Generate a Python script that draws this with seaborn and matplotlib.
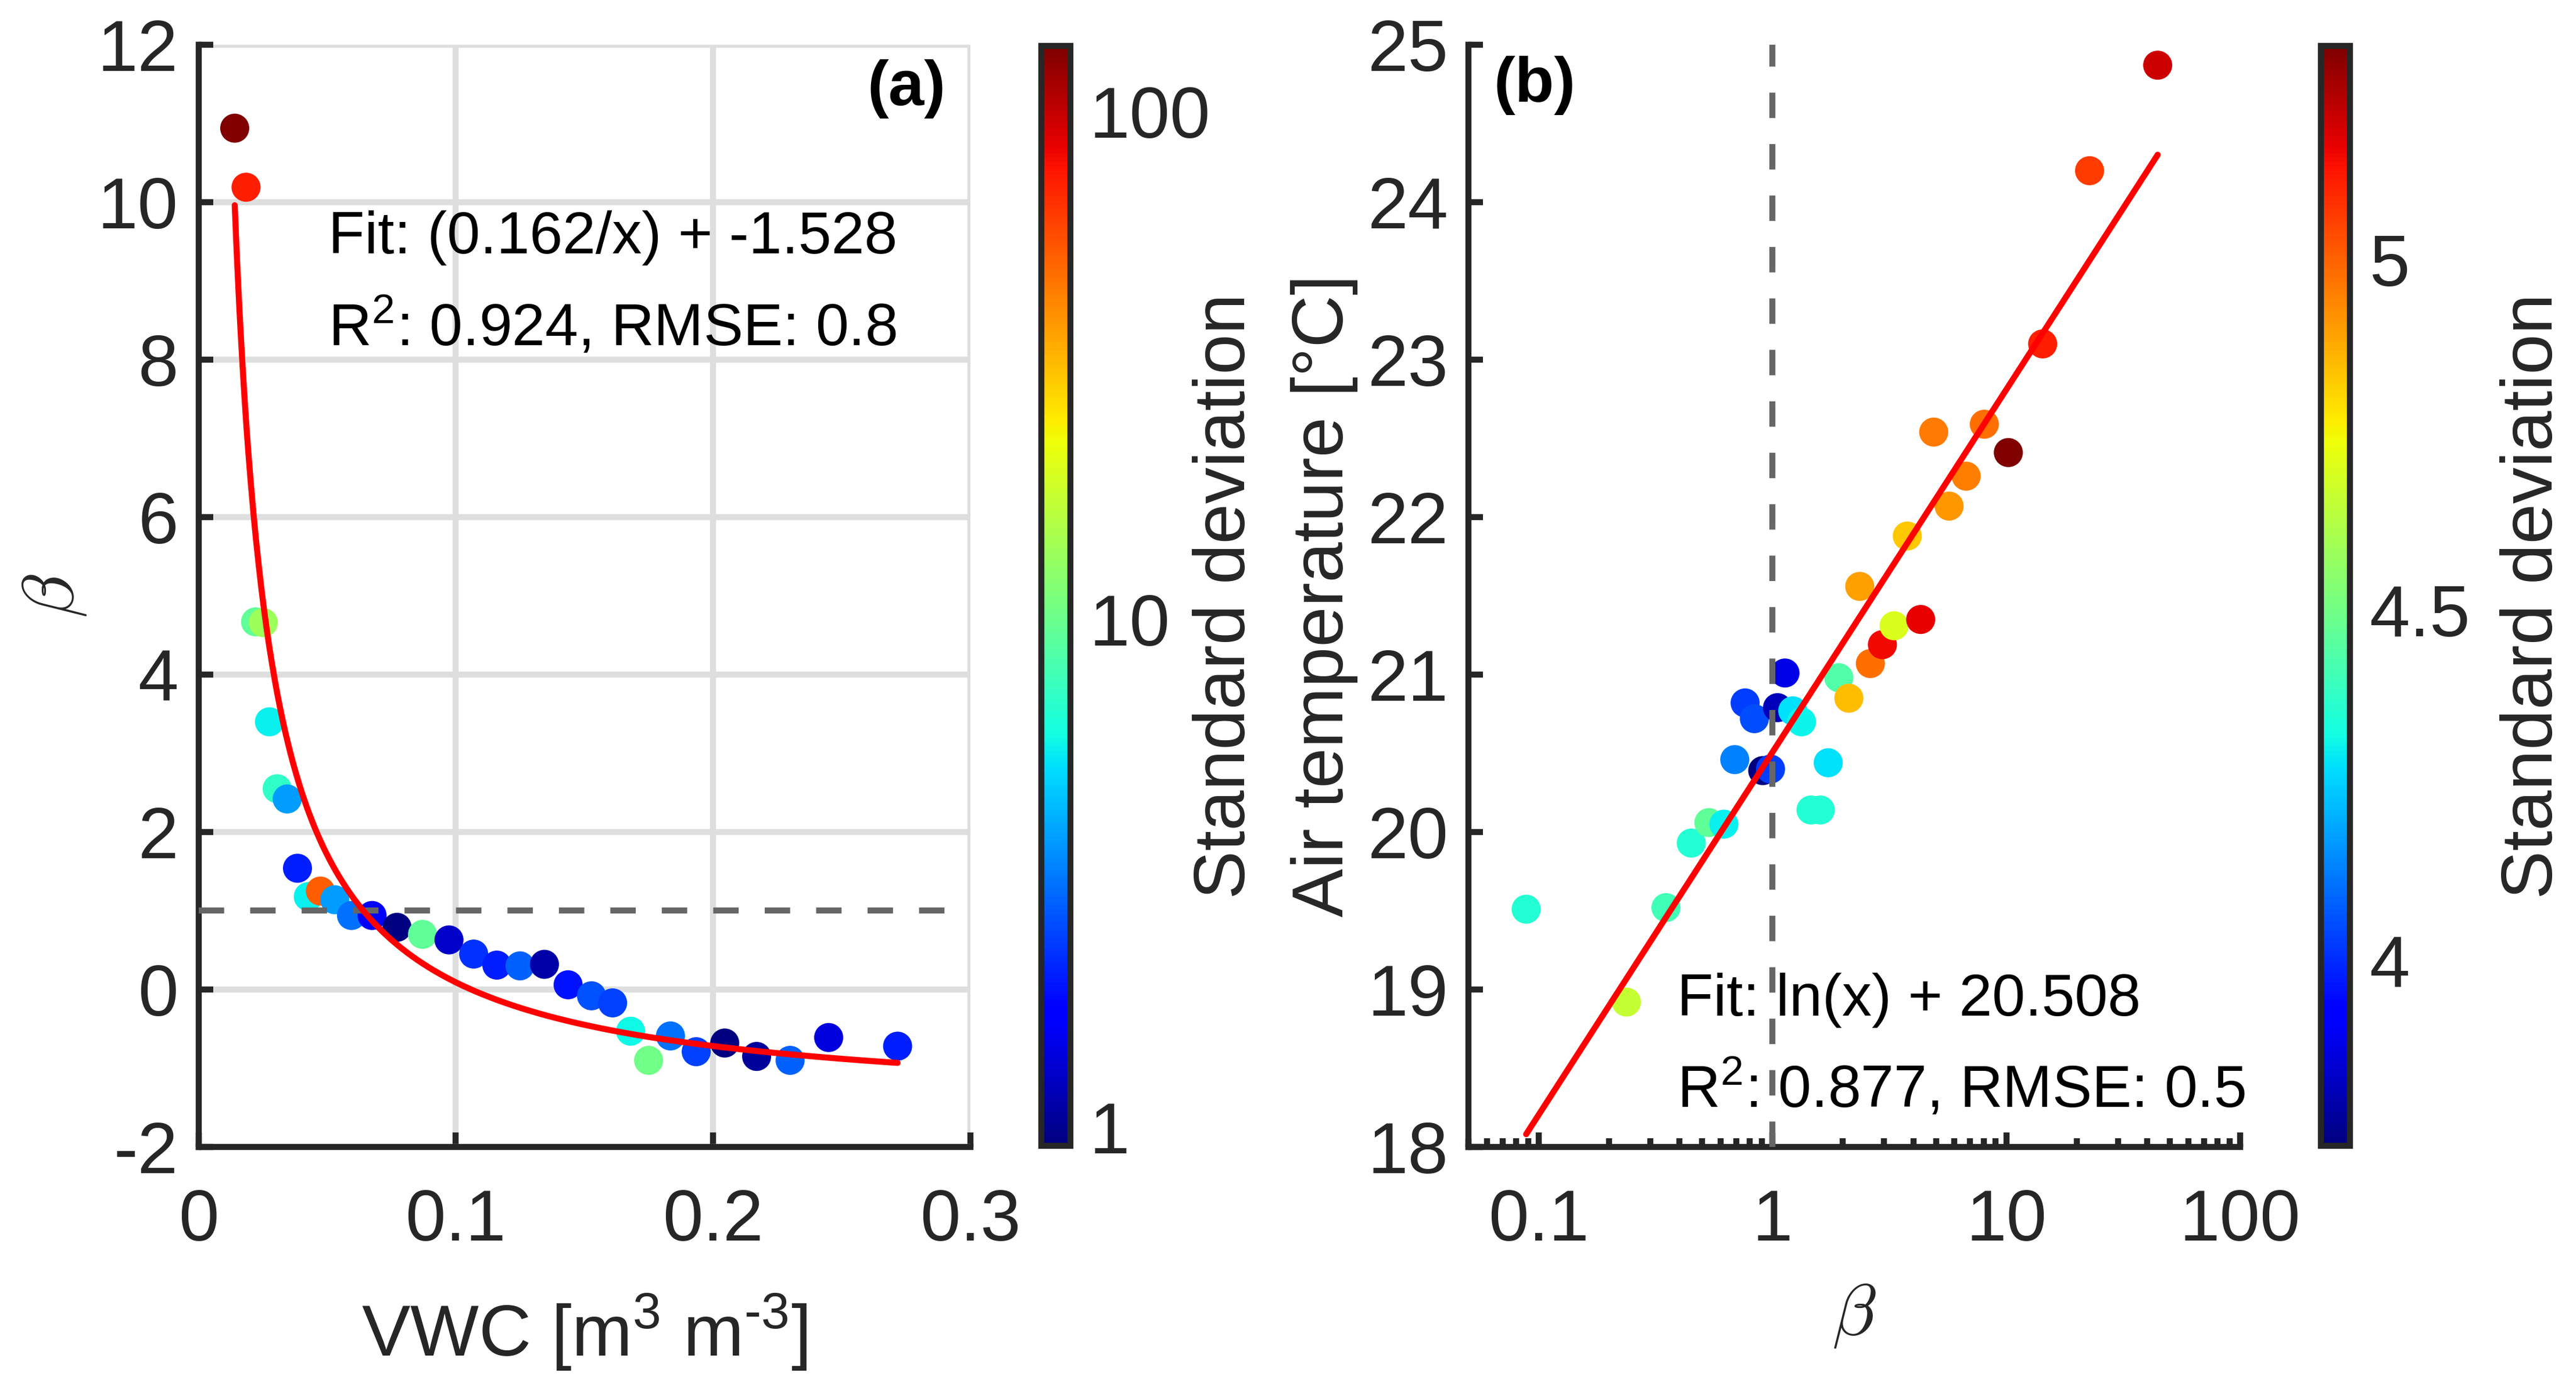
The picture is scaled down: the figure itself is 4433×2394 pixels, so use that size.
import numpy as np
import pandas as pd
import matplotlib
matplotlib.use("Agg")
import matplotlib as mpl
import matplotlib.pyplot as plt
from matplotlib.colors import LogNorm, Normalize
from matplotlib.ticker import FixedLocator, LogLocator, NullFormatter, FixedFormatter
import seaborn as sns

# ---------------- data: panel (a) ----------------
vwc_a = [0.0141, 0.0185, 0.0222, 0.0252, 0.0276, 0.0306, 0.0345, 0.0385,
         0.0427, 0.0474, 0.0530, 0.0595, 0.0675, 0.0772, 0.0871, 0.0974,
         0.1070, 0.1160, 0.1250, 0.1345, 0.1437, 0.1528, 0.1610, 0.1680,
         0.1750, 0.1835, 0.1935, 0.2046, 0.2170, 0.2300, 0.2450, 0.2718]
beta_a = [10.94, 10.19, 4.67, 4.66, 3.40, 2.55, 2.42, 1.54,
          1.18, 1.25, 1.14, 0.94, 0.94, 0.79, 0.70, 0.63,
          0.45, 0.31, 0.30, 0.32, 0.06, -0.08, -0.17, -0.53,
          -0.90, -0.59, -0.79, -0.68, -0.85, -0.90, -0.61, -0.72]
std_a = [134.6, 72.6, 9.35, 13.7, 5.55, 7.1, 3.71, 2.0,
         5.55, 52.0, 3.7, 2.97, 1.63, 0.92, 9.4, 1.26,
         2.17, 2.0, 2.74, 1.10, 1.86, 2.54, 2.35, 5.8,
         10.4, 2.97, 2.35, 0.93, 1.05, 2.74, 1.39, 2.0]
fit_a_coef = 0.162
fit_a_const = -1.528
fit_a_r2 = 0.924
fit_a_rmse = 0.8

# ---------------- data: panel (b) ----------------
beta_b = [0.0883, 0.237, 0.350, 0.449, 0.534, 0.619, 0.689, 0.763,
          0.836, 0.908, 0.980, 1.05, 1.13, 1.22, 1.33, 1.46,
          1.60, 1.73, 1.92, 2.12, 2.36, 2.62, 2.95, 3.31,
          3.77, 4.30, 4.89, 5.69, 6.73, 8.05, 10.2, 14.3,
          22.7, 44.4]
temp_b = [19.51, 18.92, 19.52, 19.93, 20.06, 20.05, 20.46, 20.82,
          20.72, 20.39, 20.40, 20.79, 21.01, 20.77, 20.70, 20.14,
          20.14, 20.44, 20.98, 20.85, 21.56, 21.07, 21.19, 21.31,
          21.88, 21.35, 22.54, 22.07, 22.26, 22.59, 22.41, 23.10,
          24.20, 24.87]
std_b = [4.35, 4.66, 4.41, 4.35, 4.47, 4.30, 4.13, 4.03,
         4.05, 3.736, 4.03, 3.82, 3.88, 4.28, 4.31, 4.35,
         4.35, 4.28, 4.44, 4.85, 4.90, 4.98, 5.15, 4.70,
         4.83, 5.16, 4.96, 4.91, 4.95, 4.98, 5.305, 5.11,
         5.06, 5.20]
fit_b_const = 20.508
fit_b_r2 = 0.877
fit_b_rmse = 0.5

a_xticks = [0, 0.1, 0.2, 0.3]
a_xticklabels = ["0", "0.1", "0.2", "0.3"]
a_yticks = [-2, 0, 2, 4, 6, 8, 10, 12]
b_xticks = [0.1, 1, 10, 100]
b_xticklabels = ["0.1", "1", "10", "100"]
b_yticks = [18, 19, 20, 21, 22, 23, 24, 25]
cb_a_ticks = [1, 10, 100]
cb_a_labels = ["1", "10", "100"]
cb_b_ticks = [4, 4.5, 5]
cb_b_labels = ["4", "4.5", "5"]

# ---------------- style ----------------
sns.set_theme(style="white")
plt.rcParams.update({
    "axes.unicode_minus": False,
    "mathtext.fontset": "custom",
    "mathtext.rm": "Liberation Sans",
    "mathtext.it": "Liberation Sans:italic",
    "mathtext.bf": "Liberation Sans:bold",
    "axes.facecolor": "white",
    "figure.facecolor": "white",
    "xtick.bottom": True,
    "ytick.left": True,
})
plt.rcParams["font.family"] = ["Liberation Sans", "DejaVu Sans"]

DARK = "#262626"
LW = 2.5
FS = 30
cmap = mpl.colormaps["jet"]

fig = plt.figure(figsize=(4433 / 300, 2394 / 300), dpi=300)
ax_a = fig.add_axes([0.07704, 0.17544, 0.29957, 0.79240])
cax_a = fig.add_axes([0.40413, 0.17627, 0.01128, 0.79073])
ax_b = fig.add_axes([0.57004, 0.17544, 0.29957, 0.79240])
cax_b = fig.add_axes([0.90108, 0.17627, 0.01128, 0.79073])


def style_axes(ax):
    for s in ["top", "right"]:
        ax.spines[s].set_visible(False)
    for s in ["left", "bottom"]:
        ax.spines[s].set_linewidth(LW)
        ax.spines[s].set_color(DARK)
    ax.tick_params(which="both", direction="in", width=LW, color=DARK,
                   labelcolor=DARK, labelsize=FS, top=False, right=False,
                   bottom=True, left=True)
    ax.tick_params(which="major", length=6)
    ax.tick_params(which="minor", length=3.6)
    ax.tick_params(axis="x", which="both", pad=17)
    ax.tick_params(axis="y", which="both", pad=8.3)


# ---------------- panel (a) ----------------
df_a = pd.DataFrame({"vwc": vwc_a, "beta": beta_a, "std": std_a}).sort_values("vwc")
norm_a = LogNorm(vmin=min(std_a), vmax=max(std_a))
sns.scatterplot(data=df_a, x="vwc", y="beta", hue="std", palette=cmap,
                hue_norm=norm_a, s=144, linewidth=0, legend=False, ax=ax_a,
                zorder=2)
ax_a.axhline(1, color="#666666", lw=LW, dashes=(4.2, 4.3), zorder=3)
xs_a = np.linspace(df_a["vwc"].min(), df_a["vwc"].max(), 500)
ax_a.plot(xs_a, fit_a_coef / xs_a + fit_a_const, color="red", lw=LW, zorder=4)

ax_a.set_xlim(0, 0.3)
ax_a.set_ylim(-2, 12)
ax_a.set_xticks(a_xticks, a_xticklabels)
ax_a.set_yticks(a_yticks, [str(v) for v in a_yticks])
ax_a.grid(True, color="#dedede", lw=LW)
ax_a.set_axisbelow(True)
style_axes(ax_a)

ax_a.set_xlabel(r"VWC [m$^3$ m$^{\text{-}3}$]", fontsize=FS, color=DARK)
ax_a.xaxis.set_label_coords(0.5, -0.1898)
ax_a.xaxis.label.set_va("baseline")
ax_a.set_ylabel(r"$\beta$", fontsize=FS, color=DARK, math_fontfamily="cm")
ax_a.yaxis.set_label_coords(-0.1427, 0.5)

ax_a.text(0.0504, 9.354, f"Fit: ({fit_a_coef}/x) + {fit_a_const}",
          fontsize=24.5, ha="left", va="baseline", color="black")
ax_a.text(0.0504, 8.18, rf"R$^2$: {fit_a_r2}, RMSE: {fit_a_rmse}",
          fontsize=24.5, ha="left", va="baseline", color="black")
ax_a.text(0.2905, 11.44, "(a)", fontsize=26.5, fontweight="bold",
          ha="right", va="center", color="black")

cb_a = fig.colorbar(mpl.cm.ScalarMappable(norm=norm_a, cmap=cmap), cax=cax_a)
cb_a.outline.set_linewidth(LW)
cb_a.outline.set_edgecolor(DARK)
cb_a.set_ticks(cb_a_ticks, labels=cb_a_labels)
cb_a.minorlocator = LogLocator(base=10, subs=np.arange(2, 10), numticks=30)
cb_a.minorformatter = NullFormatter()
cax_a.tick_params(which="both", direction="in", width=LW, color=DARK,
                  labelcolor=DARK, labelsize=FS, pad=7.8, right=True, left=False)
cax_a.tick_params(which="major", length=6)
cax_a.tick_params(which="minor", length=3.5)
cb_a.set_label("Standard deviation", fontsize=FS, color=DARK)
cax_a.yaxis.set_label_coords(5.21, 0.5)

# ---------------- panel (b) ----------------
df_b = pd.DataFrame({"beta": beta_b, "temp": temp_b, "std": std_b}).sort_values("beta")
norm_b = Normalize(vmin=min(std_b), vmax=max(std_b))
ax_b.set_xscale("log")
sns.scatterplot(data=df_b, x="beta", y="temp", hue="std", palette=cmap,
                hue_norm=norm_b, s=144, linewidth=0, legend=False, ax=ax_b,
                zorder=2)
ax_b.axvline(1, color="#666666", lw=LW, dashes=(4.2, 4.3), zorder=3)
xs_b = np.geomspace(df_b["beta"].min(), df_b["beta"].max(), 300)
ax_b.plot(xs_b, np.log(xs_b) + fit_b_const, color="red", lw=LW, zorder=4)

ax_b.set_xlim(0.05, 100)
ax_b.set_ylim(18, 25)
ax_b.xaxis.set_major_locator(FixedLocator(b_xticks))
ax_b.xaxis.set_major_formatter(FixedFormatter(b_xticklabels))
ax_b.xaxis.set_minor_locator(LogLocator(base=10, subs=np.arange(2, 10), numticks=30))
ax_b.xaxis.set_minor_formatter(NullFormatter())
ax_b.set_yticks(b_yticks, [str(v) for v in b_yticks])
ax_b.grid(False)
style_axes(ax_b)

ax_b.set_xlabel(r"$\beta$", fontsize=FS, color=DARK, math_fontfamily="cm")
ax_b.xaxis.set_label_coords(0.5, -0.1226)
ax_b.set_ylabel("Air temperature [°C]", fontsize=FS, color=DARK)
ax_b.yaxis.set_label_coords(-0.143, 0.5)

ax_b.text(0.391, 18.835, f"Fit: ln(x) + {fit_b_const}",
          fontsize=24.5, ha="left", va="baseline", color="black")
ax_b.text(0.391, 18.25, rf"R$^2$: {fit_b_r2}, RMSE: {fit_b_rmse}",
          fontsize=24.5, ha="left", va="baseline", color="black")
ax_b.text(0.064, 24.742, "(b)", fontsize=26.5, fontweight="bold",
          ha="left", va="center", color="black")

cb_b = fig.colorbar(mpl.cm.ScalarMappable(norm=norm_b, cmap=cmap), cax=cax_b)
cb_b.outline.set_linewidth(LW)
cb_b.outline.set_edgecolor(DARK)
cb_b.set_ticks(cb_b_ticks, labels=cb_b_labels)
cax_b.tick_params(which="both", direction="in", width=LW, color=DARK,
                  labelcolor=DARK, labelsize=FS, pad=7.8, length=6,
                  right=True, left=False)
cb_b.set_label("Standard deviation", fontsize=FS, color=DARK)
cax_b.yaxis.set_label_coords(6.15, 0.5)

fig.savefig("out.png", dpi=300)
